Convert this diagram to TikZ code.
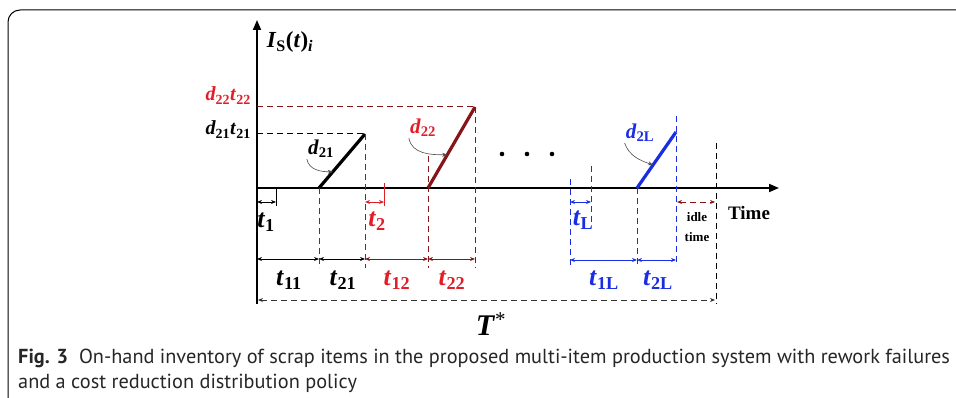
\documentclass[tikz,border=0pt]{standalone}
\usepackage{fontspec}
\setmainfont{Liberation Serif}
\newfontfamily\capfont{PT Sans}
\usetikzlibrary{arrows.meta,positioning,calc}
\definecolor{darkred}{RGB}{135,20,25}
\definecolor{brightred}{RGB}{225,30,40}
\definecolor{myblue}{RGB}{25,45,225}
\newcommand{\sv}[2]{\textbf{\textit{#1}}\textsubscript{\textbf{#2}}}

\begin{document}
\begin{tikzpicture}[x=1pt, y=-1pt,
    axis/.style={line width=1.8pt, -{Triangle[length=10pt,width=8pt]}},
    ramp/.style={line width=3.2pt},
    guide/.style={dash pattern=on 6pt off 4pt, line width=1pt},
    dim/.style={line width=0.9pt, {Stealth[length=5pt,width=4pt]}-{Stealth[length=5pt,width=4pt]}},
    curv/.style={line width=0.6pt, gray!60!black, -{Stealth[length=5pt,width=4pt]}},
    lbl/.style={font=\fontsize{20}{22}\selectfont, inner sep=1pt},
    slope/.style={font=\fontsize{21}{24}\selectfont, inner sep=1pt},
    big/.style={font=\fontsize{26}{28}\selectfont, inner sep=1pt},
    captxt/.style={anchor=base west, inner sep=0pt, font=\capfont\fontsize{20.3}{25}\selectfont, text=black!85}
]
    \useasboundingbox (0,0) rectangle (956,398);
    % Frame
    \draw[line width=1pt, rounded corners=12pt] (8,430) -- (8,10) -- (990,10);

    % Axes
    \coordinate (O) at (257,188);
    \coordinate (ytop) at (257,20);
    \coordinate (ybot) at (257,304);
    \coordinate (xend) at (779,188);
    \draw[line width=1.8pt] (O) -- (ybot);
    \draw[axis] (O) -- (ytop);
    \draw[axis] (O) -- (xend);
    \node[font=\fontsize{23}{26}\selectfont] (ylab) at (290,42)
        {\textbf{\textit{I}}\textsubscript{\textbf{S}}\textbf{(\textit{t})}\textsubscript{\textbf{\textit{i}}}};
    \node[font=\bfseries\fontsize{19}{22}\selectfont] (time) at (749,213) {Time};

    % Ramps
    \coordinate (a1) at (319,188);
    \coordinate (a2) at (365,134);
    \coordinate (b1) at (428,188);
    \coordinate (b2) at (475,107);
    \coordinate (c1) at (637,188);
    \coordinate (c2) at (676,132);
    \draw[ramp] (a1) -- (a2);
    \draw[ramp, darkred] (b1) -- (b2);
    \draw[ramp, myblue] (c1) -- (c2);

    % Levels
    \coordinate (l21) at (257,134);
    \coordinate (l22) at (257,107);
    \draw[guide] (l21) -- (a2);
    \draw[guide, darkred] (l22) -- (b2);
    \node[lbl, anchor=base east] (d21t21) at ($(l21)+(-5,1)$) {\sv{d}{21}\sv{t}{21}};
    \node[lbl, anchor=base east, brightred] (d22t22) at ($(l22)+(-5,-6)$) {\sv{d}{22}\sv{t}{22}};

    % Slope labels
    \node[slope] (d21) at (321,149) {\sv{d}{21}};
    \node[slope, brightred] (d22) at (423,128) {\sv{d}{22}};
    \node[slope, myblue] (d2L) at (640,133) {\sv{d}{2L}};
    \draw[curv] (d21.south west) to[out=-80, in=180] ($(a1)!0.3!(a2)$);
    \draw[curv] (d22.south west) to[out=-80, in=180] ($(b1)!0.41!(b2)$);
    \draw[curv] (d2L.south west) to[out=-70, in=160] ($(c1)!0.41!(c2)$);

    % Guides down to the time scale
    \coordinate (g1) at (319,268);
    \coordinate (g2) at (365,268);
    \coordinate (g3) at (428,268);
    \coordinate (g4) at (475,268);
    \coordinate (g5) at (570,266);
    \coordinate (g6) at (637,266);
    \coordinate (g7) at (676,266);
    \coordinate (g8) at (716,304);
    \draw[guide, gray!50!black] (a1) -- (g1);
    \draw[guide, gray!50!black] (a2) -- (g2);
    \draw[guide, darkred] (428,156) -- (g3);
    \draw[guide, darkred] (b2) -- (g4);
    \draw[guide, myblue] (570,179) -- (g5);
    \draw[guide, myblue] (591,166) -- (591,225);
    \draw[guide, myblue] (c1) -- (g6);
    \draw[guide, myblue] (676,116) -- (g7);
    \draw[guide] (716,143) -- (g8);
    \draw[line width=0.8pt] (276,189) -- (276,206);
    \draw[line width=0.8pt, brightred] (384,183) -- (384,206);

    % Setup times
    \draw[dim] (257,202) -- (276,202);
    \draw[dim, brightred] (365,202) -- (384,202);
    \draw[dim, myblue] (570,202) -- (591,202);
    \draw[dim, darkred, dash pattern=on 6pt off 4pt] (677,202) -- (715,202);
    \node[big] (t1) at (266,222) {\sv{t}{1}};
    \node[big, brightred] (t2) at (377,221) {\sv{t}{2}};
    \node[big, myblue] (tL) at (583,220) {\sv{t}{L}};
    \node[align=center, font=\bfseries\fontsize{13}{20}\selectfont] (idle) at (697,227) {idle\\time};

    % Production and rework times
    \draw[dim] (257,259) -- (319,259);
    \draw[dim] (319,259) -- (365,259);
    \draw[dim, darkred] (365,259) -- (428,259);
    \draw[dim, darkred] (428,259) -- (475,259);
    \draw[dim, myblue] (570,260) -- (637,260);
    \draw[dim, myblue] (637,260) -- (676,260);
    \node[big] (t11) at (289,280) {\sv{t}{11}};
    \node[big] (t21) at (343,280) {\sv{t}{21}};
    \node[big, brightred] (t12) at (397,280) {\sv{t}{12}};
    \node[big, brightred] (t22) at (452,280) {\sv{t}{22}};
    \node[big, myblue] (t1L) at (604,280) {\sv{t}{1L}};
    \node[big, myblue] (t2L) at (658,280) {\sv{t}{2L}};

    % More items
    \foreach \x in {502,527,552}
        \fill (\x,154) circle (2.3pt);

    % Cycle length
    \draw[dim, dash pattern=on 6pt off 4pt, gray!40!black] (258,300) -- (715,300);
    \node[font=\fontsize{30}{32}\selectfont] (T) at (491,324) {\textbf{\textit{T}}\textsuperscript{*}};

    % Caption
    \node[captxt] (cap1) at (18,363)
        {\textbf{Fig. 3}\ \ On-hand inventory of scrap items in the proposed multi-item production system with rework failures};
    \node[captxt] (cap2) at (18,388) {and a cost reduction distribution policy};
\end{tikzpicture}
\end{document}
